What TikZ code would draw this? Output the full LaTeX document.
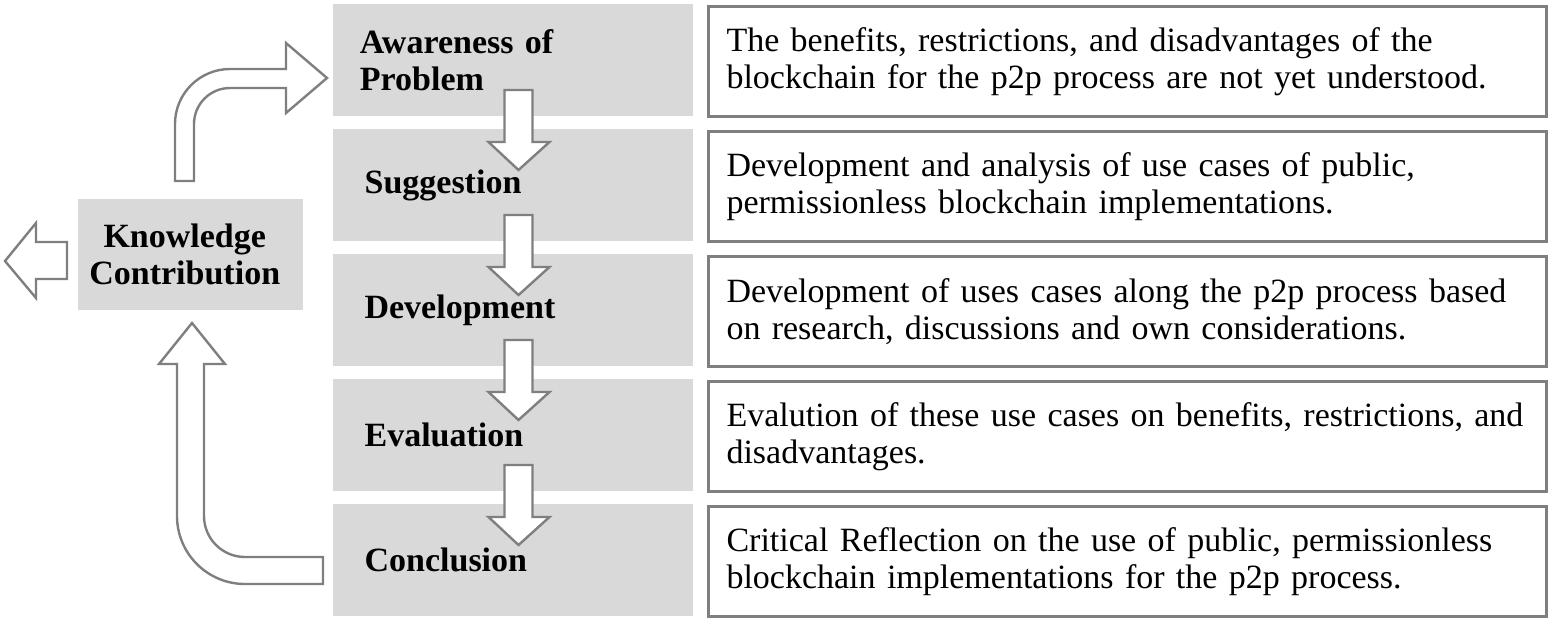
\documentclass[tikz,border=0pt]{standalone}
\usepackage{fontspec}
\setmainfont{Liberation Serif}
\definecolor{boxgray}{HTML}{D9D9D9}
\definecolor{linegray}{HTML}{7F7F7F}
\tikzset{
  stagebox/.style={fill=boxgray, draw=none, minimum width=270pt, minimum height=84pt,
    text width=230pt, inner xsep=20pt, align=left, anchor=north west,
    font=\fontsize{25.5}{27.75}\selectfont\bfseries},
  descbox/.style={fill=white, draw=linegray, line width=2.25pt, minimum width=628.5pt,
    minimum height=82.5pt, text width=601.5pt, inner xsep=13.5pt, align=left, anchor=north west,
    font=\fontsize{25.5}{27.75}\selectfont},
  kbox/.style={fill=boxgray, draw=none, minimum width=168.75pt, minimum height=83.25pt,
    align=center, anchor=north west, font=\fontsize{25.5}{27.75}\selectfont\bfseries},
  blockarrow/.style={fill=white, draw=linegray, line width=1.8pt, line join=miter},
  downarr/.pic={
    \draw[blockarrow] (-14.5,-26) -- (13.5,-26) -- (13.5,26) -- (30.5,26) -- (-0.5,54)
      -- (-30.5,26) -- (-14.5,26) -- cycle;
  }
}
\begin{document}
\begin{tikzpicture}[x=0.75pt,y=-0.75pt]
\useasboundingbox (0,0) rectangle (1554,622);

% stage boxes
\node[stagebox] (g1) at (333,4)   {Awareness of\\Problem};
\node[stagebox] (g2) at (333,129) {\hspace*{3.5pt}Suggestion};
\node[stagebox] (g3) at (333,254) {\hspace*{3.5pt}Development};
\node[stagebox] (g4) at (333,379) {\hspace*{3.5pt}Evaluation};
\node[stagebox] (g5) at (333,504) {\hspace*{3.5pt}Conclusion};

% description boxes
\node[descbox] (d1) at (707,5)   {The benefits, restrictions, and disadvantages of the\\blockchain for the p2p process are not yet understood.};
\node[descbox] (d2) at (707,130) {Development and analysis of use cases of public,\\permissionless blockchain implementations.};
\node[descbox] (d3) at (707,255) {Development of uses cases along the p2p process based\\on research, discussions and own considerations.};
\node[descbox] (d4) at (707,380) {Evalution of these use cases on benefits, restrictions, and\\disadvantages.};
\node[descbox] (d5) at (707,505) {Critical Reflection on the use of public, permissionless\\blockchain implementations for the p2p process.};

% knowledge contribution
\node[kbox] (kc) at (78,199) {Knowledge\hspace*{9pt}\\Contribution\hspace*{9pt}};

% down arrows between stages
\pic at (519,116) {downarr};
\pic at (519,241) {downarr};
\pic at (519,366) {downarr};
\pic at (519,491) {downarr};

% left arrow out of knowledge contribution
\draw[blockarrow] (5,261) -- (36,223) -- (36,242) -- (67,242) -- (67,279) -- (36,279)
  -- (36,298) -- cycle;

% top bent arrow: knowledge -> awareness
\draw[blockarrow] (175,181) -- (175,124) arc[start angle=180,end angle=270,radius=55]
  -- (286,69) -- (286,43) -- (327,78) -- (286,113) -- (286,88) -- (230,88)
  arc[start angle=270,end angle=180,radius=36] -- (194,181) -- cycle;

% bottom bent arrow: conclusion -> knowledge
\draw[blockarrow] (192,323) -- (225,364) -- (204,364) -- (204,516)
  arc[start angle=180,end angle=90,radius=41] -- (323,557) -- (323,584) -- (245,584)
  arc[start angle=90,end angle=180,radius=68] -- (177,364) -- (159,364) -- cycle;
\end{tikzpicture}
\end{document}
